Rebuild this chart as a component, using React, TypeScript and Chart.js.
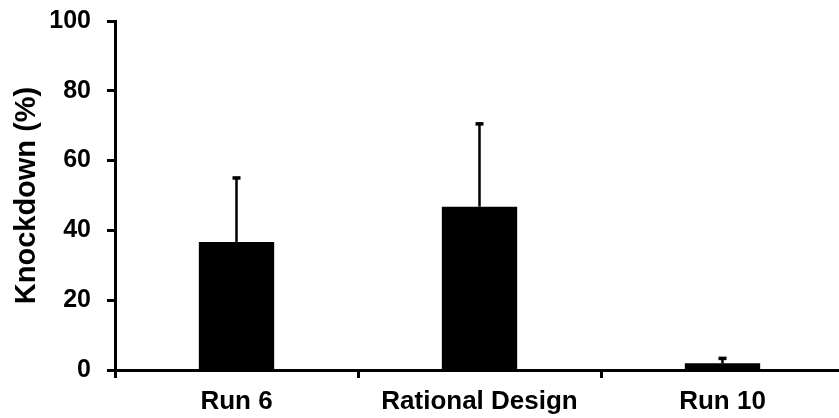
import React, { useEffect, useRef } from "react";
import { Chart, registerables } from "chart.js";

Chart.register(...registerables);

const categories = ["Run 6", "Rational Design", "Run 10"];
const knockdown = [36.7, 46.8, 1.9];
const errorUp = [18.4, 23.8, 1.5];
const yTicks = [0, 20, 40, 60, 80, 100];

const FONT = "'Liberation Sans', Arial, Helvetica, sans-serif";

const errorBarPlugin = {
  id: "errorBars",
  afterDatasetsDraw(chart: any) {
    const meta = chart.getDatasetMeta(0);
    const yScale = chart.scales.y;
    const ctx = chart.ctx;
    ctx.save();
    ctx.strokeStyle = "#000";
    ctx.fillStyle = "#000";
    ctx.lineWidth = 2.5;
    meta.data.forEach((bar: any, i: number) => {
      const v = knockdown[i];
      const e = errorUp[i];
      const x = bar.x;
      const yTop = yScale.getPixelForValue(v + e);
      const yBar = yScale.getPixelForValue(v);
      ctx.beginPath();
      ctx.moveTo(x, yBar);
      ctx.lineTo(x, yTop);
      ctx.stroke();
      ctx.fillRect(x - 4, yTop - 1.5, 8, 3.5);
    });
    ctx.restore();
  },
};

export default function App() {
  const ref = useRef<HTMLCanvasElement>(null);
  useEffect(() => {
    if (!ref.current) return;
    const chart = new Chart(ref.current, {
      type: "bar",
      data: {
        labels: categories,
        datasets: [
          {
            data: knockdown,
            backgroundColor: "#000",
            borderWidth: 0,
            barPercentage: 0.31,
            categoryPercentage: 1,
          },
        ],
      },
      options: {
        responsive: false,
        animation: false,
        devicePixelRatio: 1,
        layout: { padding: { top: 21, right: 6, left: 0, bottom: 0 } },
        plugins: { legend: { display: false }, tooltip: { enabled: false } },
        scales: {
          x: {
            offset: true,
            grid: {
              display: true,
              offset: true,
              drawOnChartArea: false,
              drawTicks: true,
              tickLength: 8,
              tickWidth: 3,
              tickColor: "#000",
            },
            border: { display: true, color: "#000", width: 3 },
            ticks: {
              color: "#000",
              padding: 8,
              font: { family: FONT, size: 26, weight: "bold" },
              maxRotation: 0,
            },
            afterFit(scale: any) {
              scale.height = 48;
            },
          },
          y: {
            min: 0,
            max: 100,
            afterBuildTicks(scale: any) {
              scale.ticks = yTicks.map((v) => ({ value: v }));
            },
            grid: {
              display: true,
              drawOnChartArea: false,
              drawTicks: true,
              tickLength: 8,
              tickWidth: 3,
              tickColor: "#000",
            },
            border: { display: true, color: "#000", width: 3 },
            ticks: {
              color: "#000",
              padding: 16,
              font: { family: FONT, size: 25, weight: "bold" },
            },
            title: {
              display: true,
              text: "Knockdown (%)",
              color: "#000",
              font: { family: FONT, size: 29, weight: "bold" },
              padding: { top: 10, bottom: 0 },
            },
            afterFit(scale: any) {
              scale.width = 115;
              scale.paddingTop = 0;
              scale.paddingBottom = 0;
            },
          },
        },
      },
      plugins: [errorBarPlugin],
    });
    return () => chart.destroy();
  }, []);
  return (
    <canvas
      ref={ref}
      width={850}
      height={418}
      style={{ position: "fixed", left: 0, top: 0, width: 850, height: 418, background: "#fff" }}
    />
  );
}
